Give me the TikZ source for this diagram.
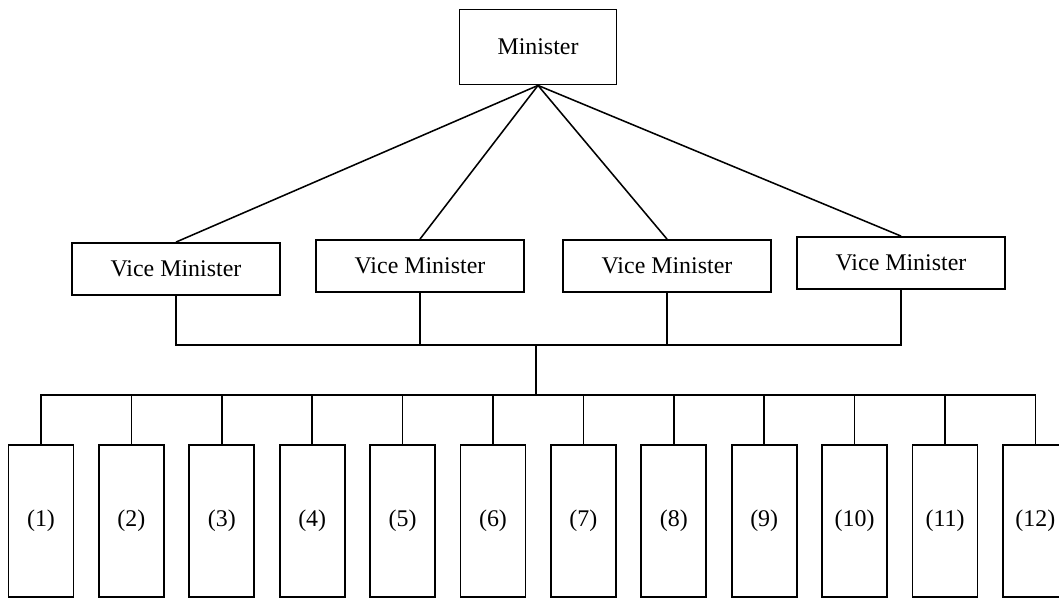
\documentclass[tikz,border=0pt]{standalone}
\usepackage{fontspec}
\setmainfont{Liberation Serif}
\usepackage{tikz}
\usetikzlibrary{positioning}
\tikzset{%
  every post/.style={
    rectangle,
    draw,
    line width=1.3pt,
    font=\fontsize{17}{20}\selectfont
  },
  vice post/.style={
    every post,
    minimum width=5.2cm,
    minimum height=1.3cm
  },
  unit post/.style={
    every post,
    minimum width=1.625cm,
    minimum height=3.8cm
  },
}

\begin{document}
\begin{tikzpicture}[x=0.025cm, y=-0.025cm, line width=1.1pt]
\useasboundingbox (0,0) rectangle (1059,598);
\node[every post, minimum width=3.925cm, minimum height=1.875cm] (minister) at (538,47) {Minister};
    \foreach \i/\px/\py in {1/176/269, 2/420/266, 3/667/266, 4/901/263}
        {\node[vice post] (vice_\i) at (\px,\py) {Vice Minister};
        \draw (minister.south) -- (vice_\i.north);}
\coordinate (bus_top) at (536,345);
\coordinate (bus_low) at (536,395);
    \foreach \i in {1,...,4}
        \draw (vice_\i.south) |- (bus_top);
\draw (bus_top) -- (bus_low);
    \foreach \i in {1,...,12}
        {\node[unit post] (unit_\i) at ({41+90.4*(\i-1)},521) {(\i)};
        \draw (bus_low) -| (unit_\i.north);}
\end{tikzpicture}
\end{document}
